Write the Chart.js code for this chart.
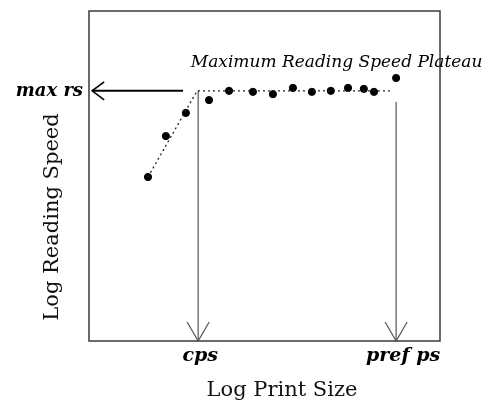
<!DOCTYPE html>
<html>
<head>
<meta charset="utf-8">
<script src="https://cdn.jsdelivr.net/npm/chart.js@4/dist/chart.umd.min.js"></script>
<style>
  html, body { margin: 0; padding: 0; background: #fff; }
  #wrap { width: 486px; height: 402px; }
</style>
</head>
<body>
<div id="wrap"><canvas id="chart" width="486" height="402"></canvas></div>
<script>
// measured reading speed vs print size (both log, arbitrary units 0-100)
const printSize = [16.8, 21.9, 27.6, 34.2, 39.9, 46.7, 52.4, 58.1, 63.5, 68.9, 73.8, 78.3, 81.2, 87.5];
const readingSpeed = [49.7, 62.1, 69.1, 73.0, 75.8, 75.5, 74.8, 76.7, 75.5, 75.8, 76.7, 76.4, 75.5, 79.7];

// fitted two-limb curve: rising limb then plateau
const fitX = [16.8, 30.8, 86.6];
const fitY = [49.7, 75.8, 75.8];

// marked values
const maxRS = 75.8;
const cpsX = 31.1;
const prefX = 87.5;
const prefTop = 72.4;
const maxArrowFrom = 26.8;
const maxArrowTo = 0.9;

const markerLabels = ["max rs", "cps", "pref ps"];
const plateauLabel = "Maximum Reading Speed Plateau";
const xTitle = "Log Print Size";
const yTitle = "Log Reading Speed";

const serif = "'DejaVu Serif', serif";

const toPoints = (xs, ys) => xs.map((x, i) => ({ x, y: ys[i] }));

const annotate = {
  id: "annotate",
  afterDatasetsDraw(chart) {
    const { ctx, chartArea: a, scales } = chart;
    const xs = scales.x, ys = scales.y;
    ctx.save();

    // frame
    ctx.strokeStyle = "#3a3a3a";
    ctx.lineWidth = 1.5;
    ctx.strokeRect(a.left, a.top, a.right - a.left, a.bottom - a.top);

    // open arrowheads
    const cx = xs.getPixelForValue(cpsX);
    const px = xs.getPixelForValue(prefX);
    const by = ys.getPixelForValue(0);
    [cx, px].forEach((x) => {
      ctx.strokeStyle = "#555";
      ctx.lineWidth = 1.2;
      ctx.beginPath();
      ctx.moveTo(x - 11, by - 19);
      ctx.lineTo(x, by);
      ctx.lineTo(x + 11, by - 19);
      ctx.stroke();
    });
    const mx = xs.getPixelForValue(maxArrowTo);
    const my = ys.getPixelForValue(maxRS);
    ctx.strokeStyle = "#000";
    ctx.lineWidth = 1.6;
    ctx.beginPath();
    ctx.moveTo(mx + 12, my - 9);
    ctx.lineTo(mx, my);
    ctx.lineTo(mx + 12, my + 9);
    ctx.stroke();

    // labels
    ctx.fillStyle = "#000";
    ctx.textBaseline = "middle";
    ctx.font = "italic bold 18px " + serif;
    ctx.textAlign = "right";
    ctx.fillText(markerLabels[0], a.left - 6, my);
    ctx.textAlign = "center";
    ctx.font = "italic bold 19px " + serif;
    ctx.fillText(markerLabels[1], cx + 2, by + 15);
    ctx.fillText(markerLabels[2], px + 7, by + 15);

    ctx.font = "italic 17px " + serif;
    ctx.textAlign = "left";
    ctx.fillText(plateauLabel, xs.getPixelForValue(29), ys.getPixelForValue(84.5));

    // axis titles
    ctx.fillStyle = "#111";
    ctx.font = "21px " + serif;
    ctx.textAlign = "center";
    ctx.fillText(xTitle, 282, 391);
    ctx.translate(53, 217);
    ctx.rotate(-Math.PI / 2);
    ctx.fillText(yTitle, 0, 0);
    ctx.restore();
  },
};

new Chart(document.getElementById("chart"), {
  type: "scatter",
  data: {
    datasets: [
      {
        label: "fit",
        data: toPoints(fitX, fitY),
        showLine: true,
        borderColor: "#222",
        borderWidth: 1.3,
        borderDash: [2, 3],
        pointRadius: 0,
      },
      {
        label: "reading speed",
        data: toPoints(printSize, readingSpeed),
        backgroundColor: "#000",
        borderColor: "#000",
        pointRadius: 3.6,
      },
      {
        label: "cps",
        data: [{ x: cpsX, y: maxRS }, { x: cpsX, y: 0 }],
        showLine: true,
        borderColor: "#555",
        borderWidth: 1.2,
        pointRadius: 0,
      },
      {
        label: "pref ps",
        data: [{ x: prefX, y: prefTop }, { x: prefX, y: 0 }],
        showLine: true,
        borderColor: "#555",
        borderWidth: 1.2,
        pointRadius: 0,
      },
      {
        label: "max rs",
        data: [{ x: maxArrowFrom, y: maxRS }, { x: maxArrowTo, y: maxRS }],
        showLine: true,
        borderColor: "#000",
        borderWidth: 2,
        pointRadius: 0,
      },
    ],
  },
  options: {
    responsive: false,
    animation: false,
    clip: false,
    layout: { padding: { top: 11, right: 46, left: 0, bottom: 0 } },
    plugins: { legend: { display: false }, tooltip: { enabled: false } },
    scales: {
      x: {
        type: "linear",
        min: 0,
        max: 100,
        grid: { display: false, drawTicks: false },
        border: { display: false },
        ticks: { display: false },
        afterFit(scale) { scale.height = 61; },
      },
      y: {
        type: "linear",
        min: 0,
        max: 100,
        grid: { display: false, drawTicks: false },
        border: { display: false },
        ticks: { display: false },
        afterFit(scale) { scale.width = 89; },
      },
    },
  },
  plugins: [annotate],
});
</script>
</body>
</html>
